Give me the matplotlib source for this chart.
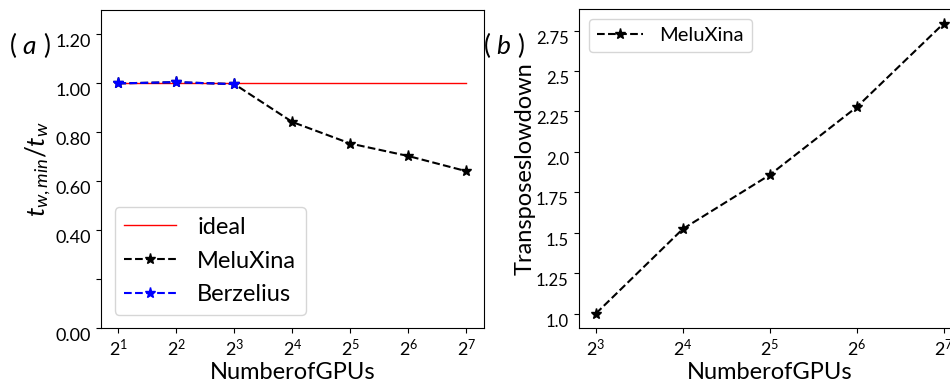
import matplotlib
matplotlib.use("Agg")
import matplotlib.pyplot as plt
import matplotlib.ticker as mticker

plt.rcParams['font.family'] = ['Lato', 'DejaVu Sans']
plt.rcParams['mathtext.fontset'] = 'custom'
plt.rcParams['mathtext.rm'] = 'Lato'
plt.rcParams['mathtext.it'] = 'Lato:italic'
plt.rcParams['mathtext.bf'] = 'Lato:bold'

# datos panel (a)
gpus_a = [2, 4, 8, 16, 32, 64, 128]
ideal = [1.0, 1.0, 1.0, 1.0, 1.0, 1.0, 1.0]
meluxina_a = [1.0, 1.005, 0.997, 0.842, 0.754, 0.703, 0.641]
gpus_berz = [2, 4, 8]
berzelius = [1.0, 1.005, 0.997]
yticks_a = [0.0, 0.2, 0.4, 0.6, 0.8, 1.0, 1.2]
ylabels_a = ['0.00', '', '0.40', '0.60', '0.80', '1.00', '1.20']

# datos panel (b)
gpus_b = [8, 16, 32, 64, 128]
slowdown = [1.0, 1.523, 1.857, 2.276, 2.793]
yticks_b = [1.0, 1.25, 1.5, 1.75, 2.0, 2.25, 2.5, 2.75]
ylabels_b = ['1.0', '1.25', '1.5', '1.75', '2.0', '2.25', '2.5', '2.75']

fig = plt.figure(figsize=(9.5, 3.88), dpi=100)
ax1 = fig.add_axes([0.1063, 0.1546, 0.403, 0.8196])
ax2 = fig.add_axes([0.609, 0.1546, 0.4025, 0.822])

# panel (a)
ax1.plot(gpus_a, ideal, color='red', lw=1, label='ideal')
ax1.plot(gpus_a, meluxina_a, 'k--*', lw=1.5, ms=8, label='MeluXina')
ax1.plot(gpus_berz, berzelius, 'b--*', lw=1.5, ms=8, label='Berzelius')
ax1.set_xscale('log', base=2)
ax1.xaxis.set_minor_locator(mticker.NullLocator())
ax1.set_xticks(gpus_a)
ax1.set_ylim(0, 1.3)
ax1.set_yticks(yticks_a)
ax1.set_yticklabels(ylabels_a, va='top')
ax1.tick_params(labelsize=13)
ax1.set_xlabel('NumberofGPUs', fontsize=17, labelpad=2)
ax1.set_ylabel('$t_{w,min}/t_w$', fontsize=19, labelpad=2)
ax1.legend(loc='lower left', fontsize=17, handlelength=2.2, handletextpad=0.9,
           labelspacing=0.55, bbox_to_anchor=(0.005, 0.004))
fig.text(0.009, 0.885, '$(\\ a\\ )$', fontsize=19, va='center')

# panel (b)
ax2.plot(gpus_b, slowdown, 'k--*', lw=1.5, ms=8, label='MeluXina')
ax2.set_xscale('log', base=2)
ax2.xaxis.set_minor_locator(mticker.NullLocator())
ax2.set_xticks(gpus_b)
ax2.set_yticks(yticks_b)
ax2.set_yticklabels(ylabels_b, va='top')
ax2.tick_params(labelsize=13)
ax2.tick_params(axis='y', labelsize=12)
ax2.set_xlabel('NumberofGPUs', fontsize=17, labelpad=2)
ax2.set_ylabel('Transposeslowdown', fontsize=17, labelpad=0)
ax2.legend(loc='upper left', fontsize=14.5, handlelength=2.3, handletextpad=0.8)
fig.text(0.508, 0.885, '$(\\ b\\ )$', fontsize=19, va='center')

plt.savefig('out.png', dpi=100)
